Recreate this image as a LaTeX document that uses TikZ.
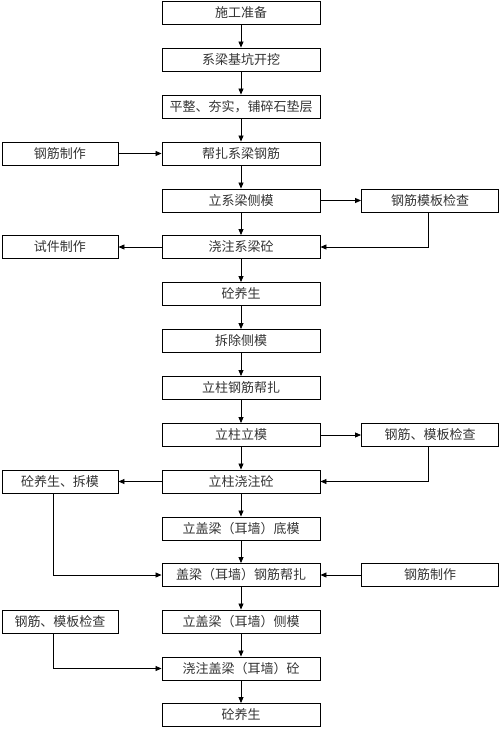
\documentclass[tikz,border=0pt]{standalone}
\usepackage{fontspec}
\setmainfont{Noto Sans CJK SC}
\usetikzlibrary{arrows.meta, positioning}

\begin{document}
\begin{tikzpicture}[x=1pt, y=-1pt,
    step box/.style={draw, line width=0.9pt, rectangle, minimum width=158pt, minimum height=23pt, inner sep=1pt, align=center, font=\fontsize{13}{15}\selectfont, text=black!80},
    left box/.style={step box, minimum width=116pt},
    right box/.style={step box, minimum width=137pt},
    arrow/.style={-{Triangle[length=6pt, width=5pt]}, line width=0.8pt}
]
    \useasboundingbox (0,0) rectangle (500,729);

    % main column
    \node[step box] (prep) at (241,12.5) {施工准备};
    \node[step box] (dig) at (241,59.5) {系梁基坑开挖};
    \node[step box] (level) at (241,106.5) {平整、夯实，铺碎石垫层};
    \node[step box] (tiebeam) at (241,153.5) {帮扎系梁钢筋};
    \node[step box] (beammold) at (241,200.5) {立系梁侧模};
    \node[step box] (beampour) at (241,247) {浇注系梁砼};
    \node[step box] (cureA) at (241,294) {砼养生};
    \node[step box] (strip) at (241,341) {拆除侧模};
    \node[step box] (coltie) at (241,388) {立柱钢筋帮扎};
    \node[step box] (colmold) at (241,435) {立柱立模};
    \node[step box] (colpour) at (241,481.5) {立柱浇注砼};
    \node[step box] (capbase) at (241,528.5) {立盖梁（耳墙）底模};
    \node[step box] (captie) at (241,575) {盖梁（耳墙）钢筋帮扎};
    \node[step box] (capmold) at (241,621.5) {立盖梁（耳墙）侧模};
    \node[step box] (cappour) at (241,668.5) {浇注盖梁（耳墙）砼};
    \node[step box] (cureB) at (241,715) {砼养生};

    % side boxes
    \node[left box] (rebarA) at (60,153.5) {钢筋制作};
    \node[right box] (checkA) at (430,200.5) {钢筋模板检查};
    \node[left box] (sample) at (60,247) {试件制作};
    \node[right box] (checkB) at (430,435) {钢筋、模板检查};
    \node[left box] (cureC) at (60,481.5) {砼养生、拆模};
    \node[right box] (rebarB) at (430,575) {钢筋制作};
    \node[left box] (checkC) at (60,621.5) {钢筋、模板检查};

    % main flow
    \draw[arrow] (prep) -- (dig);
    \draw[arrow] (dig) -- (level);
    \draw[arrow] (level) -- (tiebeam);
    \draw[arrow] (tiebeam) -- (beammold);
    \draw[arrow] (beammold) -- (beampour);
    \draw[arrow] (beampour) -- (cureA);
    \draw[arrow] (cureA) -- (strip);
    \draw[arrow] (strip) -- (coltie);
    \draw[arrow] (coltie) -- (colmold);
    \draw[arrow] (colmold) -- (colpour);
    \draw[arrow] (colpour) -- (capbase);
    \draw[arrow] (capbase) -- (captie);
    \draw[arrow] (captie) -- (capmold);
    \draw[arrow] (capmold) -- (cappour);
    \draw[arrow] (cappour) -- (cureB);

    % side links
    \draw[arrow] (rebarA) -- (tiebeam);
    \draw[arrow] (beammold) -- (checkA);
    \draw[arrow] ([xshift=-2pt]checkA.south) |- (beampour.east);
    \draw[arrow] (beampour) -- (sample);
    \draw[arrow] (colmold) -- (checkB);
    \draw[arrow] ([xshift=-2pt]checkB.south) |- (colpour.east);
    \draw[arrow] (colpour) -- (cureC);
    \draw[arrow] ([xshift=-7pt]cureC.south) |- (captie.west);
    \draw[arrow] (rebarB) -- (captie);
    \draw[arrow] ([xshift=-7pt]checkC.south) |- (cappour.west);
\end{tikzpicture}
\end{document}
